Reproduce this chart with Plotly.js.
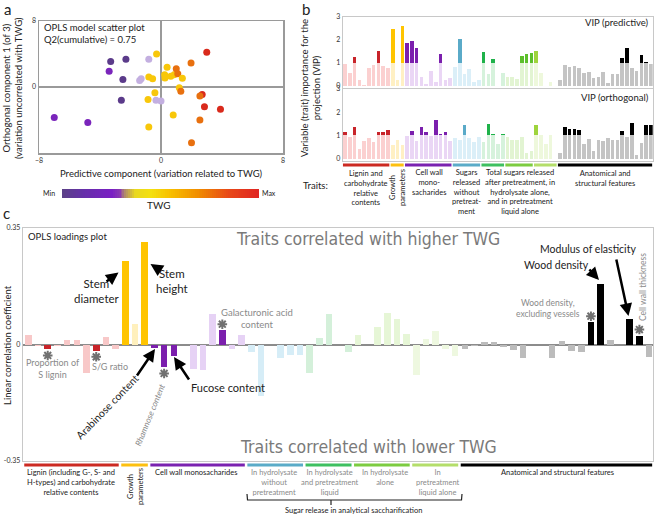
<!DOCTYPE html>
<html><head><meta charset="utf-8">
<script src="https://cdn.plot.ly/plotly-3.0.1.min.js"></script>
<style>html,body{margin:0;padding:0;background:#fff}#chart{width:654px;height:515px}</style>
</head><body><div id="chart"></div>
<script>
// ---------- Panel a: OPLS scores ----------
const scoreX = [3.0,1.97,-0.29,-3.3,-2.3,-0.8,-3.4,-2.5,-1.4,-1.3,-0.8,-0.55,0.4,0.24,0.26,0.64,0.86,1.0,1.1,1.4,1.2,1.3,-0.4,-0.85,-0.33,0.0,-2.6,2.7,2.55,2.85,3.9,0.8,2.55,-0.8,2.0,-7.0,-4.8];
const scoreY = [4.2,2.9,4.0,3.1,3.35,3.35,1.9,0.9,0.8,1.0,1.2,1.0,2.4,1.5,1.1,1.3,1.5,2.2,1.6,1.05,-0.1,-0.5,-0.7,-1.5,-1.6,-1.7,-1.6,-0.9,-1.1,-2.4,-2.7,-3.4,-4.0,-4.85,-6.75,-3.7,-4.3];
const scoreTWGClass = ['r','o','y','dp','dp','lp','v','dp','lp','lp','y','y','y','y','y','y','y','o','o','y','y','o','y','y','lp','lp','dp','r','o','r','r','y','o','y','o','v','v'];

// ---------- Panels b and c: traits ----------
const groupNames = ['Lignin/carbohydrate','Growth','Monosaccharides','Sugars w/o pretreatment','Hydrolysate+liquid','Hydrolysate alone','Liquid alone','Anatomical'];
const groupSizes = [10,3,10,6,5,6,5,20];
const vipPredictive = [0.97,0.56,1.26,0.27,0.05,0.78,0.9,1.5,0.85,0.78, 2.45,0.25,2.6, 1.85,1.94,1.66,0.4,0.09,0.66,0.19,1.4,0.24,0.35, 0.82,2.05,0.53,0.74,0.19,0.28, 1.47,0.53,1.15,0,0.55, 0.4,0.37,0.3,1.3,1.4,1.41, 1.5,0.56,0,0.19,0, 0.24,0.9,0.82,0.88,0.78,0.56,0.62,0.34,0.41,0.59,0.15,0.51,0.51,1.2,1.65,0.76,0.66,1.34,1.03,0.97];
const vipOrthogonal = [1.13,0.94,1.38,0.43,0.76,0.88,0.72,1.13,1.13,1.25, 0.57,0.81,0.59, 0.99,1.18,0.76,1.38,1.16,0.97,1.68,1.06,1.13,0.76, 0.88,0.81,1.43,0.9,0.72,0.94, 0.72,1.49,1.06,0.65,1.06, 0.94,0.79,0.79,0.94,0.25,0.35, 1.47,1.0,0.62,1.0,0, 0.25,1.35,1.28,1.28,1.24,0.65,0.84,0.35,0.81,0.74,0.91,0.79,0.79,1.2,0.94,1.53,0.18,0.69,1.47,1.47];
const loadings = [0.028,-0.005,-0.015,-0.005,0.015,0.015,-0.087,-0.019,0.023,-0.015, 0.25,0.061,0.308, -0.01,-0.069,-0.034,0,-0.074,-0.076,0.093,0.043,-0.015,0.03, -0.024,-0.154,0,-0.042,-0.033,-0.033, -0.087,0.021,0.093,0,-0.022, 0.029,0,0.053,0.095,0.078,0.033, -0.092,0.018,0.04,-0.015,-0.035, -0.014,-0.005,0.009,0.009,-0.007,-0.017,-0.042,0,-0.002,-0.04,0.012,-0.02,-0.022,0.067,0.183,0.013,0,0.076,0.027,-0.037];
const significantTraits = [2,7,10,12,13,14,15,20,58,59,62,63];
const asteriskTraits = [2,7,14,20,58,63];

// ---------- styles ----------
const W = 654, H = 515;
const FONT = 'Lato, "Open Sans", sans-serif';
const classColor = {dp:'#5b3b8a', v:'#7a25bb', lp:'#c3afe0', y:'#f8c70a', o:'#e8700f', r:'#d92a1c'};
const darkCol = ['#c8242a','#ffc400','#7b1fad','#5aaac8','#1fb24a','#5cbf2a','#9ed43c','#000000'];
const paleCol = ['#fbd0d0','#fff0c4','#ead6f5','#dbeff8','#d6f2dc','#e2f4d2','#eef8dc','#c4c4c4'];
const paleColC = ['#f8c8c8','#fff0bd','#e6d2f5','#d6edf7','#d4f0da','#e6f6d6','#eef8e0','#bcbcbc'];
const lineCol = ['#cc2a22','#fdc010','#7a22b0','#5aabc8','#3ec060','#7ccc40','#b4de6a','#000000'];

const groupOf = [];
groupSizes.forEach((n,g)=>{for(let i=0;i<n;i++) groupOf.push(g);});
const idx = groupOf.map((_,i)=>i);
const groupStart = [], groupEnd = [];
{let s=0; groupSizes.forEach(n=>{groupStart.push(s); groupEnd.push(s+n-1); s+=n;});}

const px = x => x/W, py = y => 1 - y/H;

const traces = [];
// Panel a scatter
traces.push({type:'scatter', mode:'markers', x:scoreX, y:scoreY, xaxis:'x', yaxis:'y',
  marker:{size:7, color:scoreTWGClass.map(c=>classColor[c])}, hoverinfo:'skip'});
// colour bar as heatmap
const cbz = []; for(let i=0;i<=100;i++) cbz.push(i);
traces.push({type:'heatmap', z:[cbz], xaxis:'x5', yaxis:'y5', showscale:false, hoverinfo:'skip',
  colorscale:[[0,'#5b4088'],[0.1,'#6530a8'],[0.25,'#7a1fc4'],[0.29,'#8a3ab0'],[0.32,'#b08a6a'],[0.37,'#e8d820'],[0.45,'#f4e010'],[0.55,'#f8c000'],[0.7,'#f08a00'],[0.85,'#e84818'],[1,'#e02622']]});
// Panel b VIP
function vipTraces(vals, xa, ya){
  traces.push({type:'bar', x:idx, y:vals.map(v=>Math.min(v,1)), xaxis:xa, yaxis:ya, width:0.75,
    marker:{color:groupOf.map(g=>paleCol[g])}, hoverinfo:'skip'});
  traces.push({type:'bar', x:idx, y:vals.map(v=>Math.max(v-1,0)), xaxis:xa, yaxis:ya, width:0.75,
    marker:{color:groupOf.map(g=>darkCol[g])}, hoverinfo:'skip'});
}
vipTraces(vipPredictive,'x2','y2');
vipTraces(vipOrthogonal,'x3','y3');
// Panel c loadings
traces.push({type:'bar', x:idx, y:loadings, xaxis:'x4', yaxis:'y4', width:0.68,
  marker:{color:groupOf.map((g,i)=>significantTraits.includes(i)?darkCol[g]:paleColC[g])}, hoverinfo:'skip'});
// asterisks just beyond the end of the marked bars
const AST_GAP = 0.018;
traces.push({type:'scatter', mode:'markers', xaxis:'x4', yaxis:'y4', hoverinfo:'skip',
  x:asteriskTraits,
  y:asteriskTraits.map(i=>loadings[i] + (loadings[i]<0?-AST_GAP:AST_GAP)),
  marker:{symbol:'asterisk-open', size:8, color:'#707070', line:{color:'#707070', width:2}}});

const frameA = {showgrid:false, showline:true, mirror:true, linecolor:'#9a9a9a', linewidth:1.5, ticks:'', tickfont:{size:7,color:'#333'}, zeroline:true, zerolinecolor:'#9a9a9a', zerolinewidth:1.5};
const frameB = {showgrid:false, showline:true, mirror:true, linecolor:'#c8c8c8', linewidth:1, ticks:'', zeroline:false, tickfont:{size:7,color:'#333'}};

const layout = {
  width:W, height:H, margin:{l:0,r:0,t:0,b:0}, autosize:false,
  paper_bgcolor:'#ffffff', plot_bgcolor:'rgba(0,0,0,0)', showlegend:false,
  barmode:'stack', bargap:0,
  font:{family:FONT, size:9, color:'#222'},
  xaxis: Object.assign({}, frameA, {domain:[px(39),px(283)], range:[-8,8], tickvals:[-8,0,8], anchor:'y'}),
  yaxis: Object.assign({}, frameA, {domain:[py(153),py(21)], range:[-8,8], tickvals:[0,8], anchor:'x'}),
  xaxis5:{domain:[px(62),px(259)], visible:false, anchor:'y5', range:[-0.5,100.5]},
  yaxis5:{domain:[py(198),py(189)], visible:false, anchor:'x5'},
  xaxis2: Object.assign({}, frameB, {domain:[px(342.7),px(652.7)], range:[-0.48,64.38], showticklabels:false, anchor:'y2'}),
  yaxis2: Object.assign({}, frameB, {domain:[py(88.3),py(16.7)], range:[-0.1,3.0], tickvals:[0,1,2,3], anchor:'x2'}),
  xaxis3: Object.assign({}, frameB, {domain:[px(342.7),px(652.7)], range:[-0.48,64.38], showticklabels:false, anchor:'y3'}),
  yaxis3: Object.assign({}, frameB, {domain:[py(161),py(89)], range:[-0.1,3.0], tickvals:[0,1,2,3], anchor:'x3'}),
  xaxis4: Object.assign({}, frameB, {domain:[px(22.7),px(652.7)], range:[-0.58,64.37], showticklabels:false, anchor:'y4'}),
  yaxis4: Object.assign({}, frameB, {domain:[py(461),py(228)], range:[-0.35,0.35], tickvals:[-0.35,0,0.35], ticktext:['-0.35','0','0.35'], tickfont:{size:7,color:'#333'}, zeroline:true, zerolinecolor:'#8c8c8c', zerolinewidth:2, anchor:'x4'}),
  shapes:[], annotations:[]
};

// group underline bars
groupSizes.forEach((n,g)=>{
  layout.shapes.push({type:'rect', xref:'x2', yref:'paper', x0:groupStart[g]-0.45, x1:groupEnd[g]+0.28, y0:py(166.5), y1:py(163.5), fillcolor:lineCol[g], line:{width:0}});
  layout.shapes.push({type:'rect', xref:'x4', yref:'paper', x0:groupStart[g]-0.42, x1:groupEnd[g]+0.32, y0:py(466.5), y1:py(463.5), fillcolor:lineCol[g], line:{width:0}});
});
// bracket
layout.shapes.push({type:'path', xref:'paper', yref:'paper', line:{color:'#222', width:1.2},
  path:`M ${px(247)} ${py(494)} L ${px(247.5)} ${py(500)} L ${px(461.5)} ${py(500)} L ${px(462)} ${py(494)}`});
layout.shapes.push({type:'line', xref:'paper', yref:'paper', x0:px(331), x1:px(331), y0:py(500), y1:py(505), line:{color:'#222', width:1.2}});

function T(text, x, y, o={}){
  return Object.assign({text, x:px(x), y:py(y), xref:'paper', yref:'paper', showarrow:false,
    xanchor:o.xa||'center', yanchor:o.ya||'middle', align:o.align||'center', textangle:o.angle||0,
    font:{size:o.size||9, color:o.color||'#222', family:o.family||FONT, style:o.style||'normal', weight:o.weight||'normal'}});
}
function A(x0,y0,x1,y1){
  return {text:'', x:px(x1), y:py(y1), xref:'paper', yref:'paper', ax:x0-x1, ay:y0-y1, axref:'pixel', ayref:'pixel',
    showarrow:true, arrowhead:2, arrowsize:1, arrowwidth:2.5, arrowcolor:'#000', standoff:0, startstandoff:0};
}
const GREY = '#8a8a8a';
const ann = layout.annotations;
// panel letters
ann.push(T('a', 7, 9, {size:15}));
ann.push(T('b', 306, 9, {size:15}));
ann.push(T('c', 6, 213, {size:15}));
// panel a
ann.push(T('OPLS model scatter plot<br>Q2(cumulative) = 0.75', 42, 33, {xa:'left', align:'left', size:9.5}));
ann.push(T('Orthogonal component 1 (of 3)<br>(variation uncorrelated with TWG)', 13, 88, {angle:-90, size:9.5}));
ann.push(T('Predictive component (variation related to TWG)', 161, 173, {size:9.5}));
ann.push(T('Min', 49, 193, {size:7}));
ann.push(T('Max', 269, 193, {size:7}));
ann.push(T('TWG', 158, 205, {size:10}));
// panel b
ann.push(T('Variable (trait) importance for the<br>projection (VIP)', 311, 88, {angle:-90, size:9.5}));
ann.push(T('VIP (predictive)', 651, 22, {xa:'right', size:9.5}));
ann.push(T('VIP (orthogonal)', 651, 98, {xa:'right', size:9.5}));
ann.push(T('Traits:', 315, 186, {size:9.5}));
const bs = 7.5;
ann.push(T('Lignin and<br>carbohydrate<br>relative<br>contents', 366, 187.5, {size:bs}));
ann.push(T('Growth<br>parameters', 397, 188, {size:bs, angle:-90}));
ann.push(T('Cell wall<br>mono-<br>sacharides', 428.5, 182.5, {size:bs}));
ann.push(T('Sugars<br>released<br>without<br>pretreat-<br>ment', 466.5, 192, {size:bs}));
ann.push(T('Total sugars released<br>after pretreatment, in<br>hydrolysate alone,<br>and in pretreatment<br>liquid alone', 519.5, 192, {size:bs}));
ann.push(T('Anatomical and<br>structural features', 605, 178, {size:bs}));
// panel c
const BIG = '"DejaVu Sans Condensed", "DejaVu Sans", sans-serif';
ann.push(T('OPLS loadings plot', 26, 236, {xa:'left', size:9.5}));
ann.push(T('Traits correlated with higher TWG', 368, 238.5, {size:17.5, color:'#7a7a7a', family:BIG}));
ann.push(T('Traits correlated with lower TWG', 368, 447, {size:17.5, color:'#7a7a7a', family:BIG}));
ann.push(T('Linear correlation coefficient', 7, 345, {angle:-90, size:9.5}));
ann.push(T('Stem<br>diameter', 96.5, 291, {size:11.5}));
ann.push(T('Stem<br>height', 172, 280.5, {size:11.5}));
ann.push(T('Proportion of<br>S lignin', 52.5, 368, {size:9, color:GREY}));
ann.push(T('S/G ratio', 110, 366.5, {size:9, color:GREY}));
ann.push(T('Arabinose content', 107, 407, {size:10.5, angle:-46}));
ann.push(T('Rhamnose content', 150, 415, {size:8.5, angle:-68, color:GREY, style:'italic'}));
ann.push(T('Fucose content', 189, 387, {size:11, xa:'left'}));
ann.push(T('Galacturonic acid<br>content', 257, 318.5, {size:9.5, color:GREY}));
ann.push(T('Wood density,<br>excluding vessels', 548, 308.5, {size:8.5, color:GREY}));
ann.push(T('Wood density', 556.5, 265, {size:10.5}));
ann.push(T('Modulus of elasticity', 588, 248.5, {size:10.5}));
ann.push(T('Cell wall thickness', 643, 287, {size:8.5, angle:-90, color:GREY}));
// arrows
ann.push(A(105,282.5,118.5,272.5));
ann.push(A(159,269.5,150.5,264));
ann.push(A(136,377,155,349));
ann.push(A(190,381,174,357));
ann.push(A(588,268,599,280));
ann.push(A(616,258,628.5,316));
// group labels c
const cs = 7.5;
ann.push(T('Lignin (including G-, S- and<br>H-types) and carbohydrate<br>relative contents', 71, 482, {size:cs}));
ann.push(T('Growth<br>parameters', 135, 487, {size:cs, angle:-90}));
ann.push(T('Cell wall monosacharides', 196.5, 472.5, {size:cs}));
ann.push(T('In hydrolysate<br>without<br>pretreatment', 273.5, 482, {size:cs, color:GREY}));
ann.push(T('In hydrolysate<br>and pretreatment<br>liquid', 330, 482, {size:cs, color:GREY}));
ann.push(T('In hydrolysate<br>alone', 385, 477.5, {size:cs, color:GREY}));
ann.push(T('In<br>pretreatment<br>liquid alone', 437.5, 482, {size:cs, color:GREY}));
ann.push(T('Anatomical and structural features', 557, 472.5, {size:cs}));
ann.push(T('Sugar release in analytical saccharification', 353.5, 510, {size:cs}));

Plotly.newPlot('chart', traces, layout, {displayModeBar:false, staticPlot:true});
</script>
</body></html>
